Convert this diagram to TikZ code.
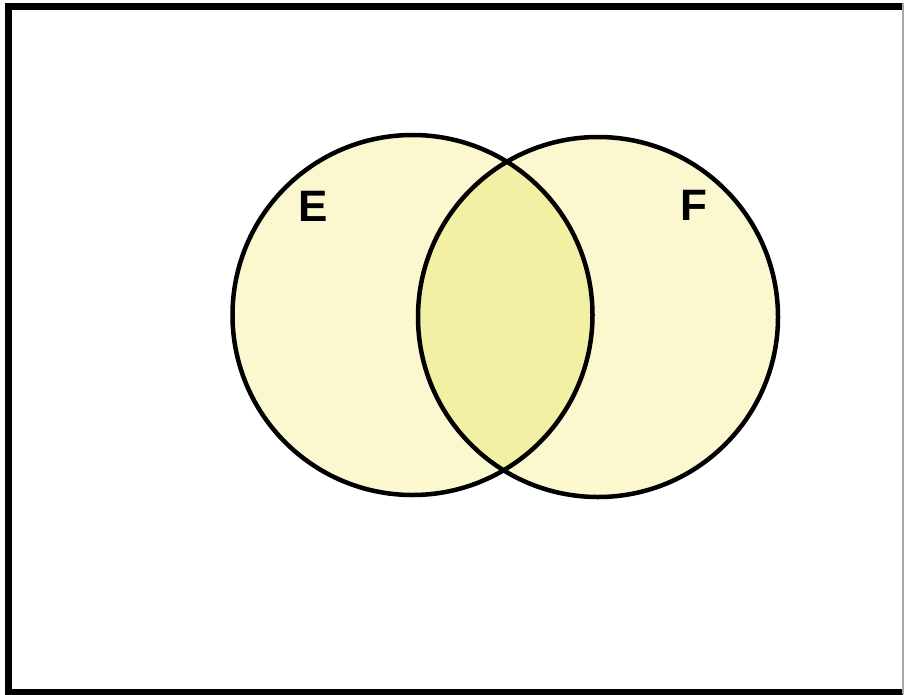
\documentclass[tikz,border=0pt]{standalone}
\usepackage{fontspec}
\setmainfont{Liberation Sans}
\usepackage{tikz}
\usetikzlibrary{positioning}

\definecolor{setfill}{RGB}{251,248,208}
\definecolor{bothfill}{RGB}{242,240,164}

\begin{document}
\begin{tikzpicture}[x=1pt, y=-1pt,
        set outline/.style = {draw=black, line width=4.5pt},
        set label/.style = {font=\fontsize{44}{48}\selectfont\bfseries, inner sep=0pt}
    ]

    \useasboundingbox (0,0) rectangle (904,694);

    % Frame
    \draw[line width=6.5pt] (903,6.5) -- (8.5,6.5) -- (8.5,692) -- (903,692);
    \draw[line width=1.2pt, gray!70] (903,3) -- (903,694);

    % Centres
    \coordinate (cE) at (412.5,315);
    \coordinate (cF) at (598,317);

    % Sets
    \fill[setfill] (cE) circle (180);
    \fill[setfill] (cF) circle (180);
    \begin{scope}
        \clip (cE) circle (180);
        \fill[bothfill] (cF) circle (180);
    \end{scope}
    \draw[set outline] (cE) circle (180);
    \draw[set outline] (cF) circle (180);

    % Labels
    \node (labE) [set label] at (313,206) {E};
    \node (labF) [set label] at (694,205) {F};

\end{tikzpicture}
\end{document}
